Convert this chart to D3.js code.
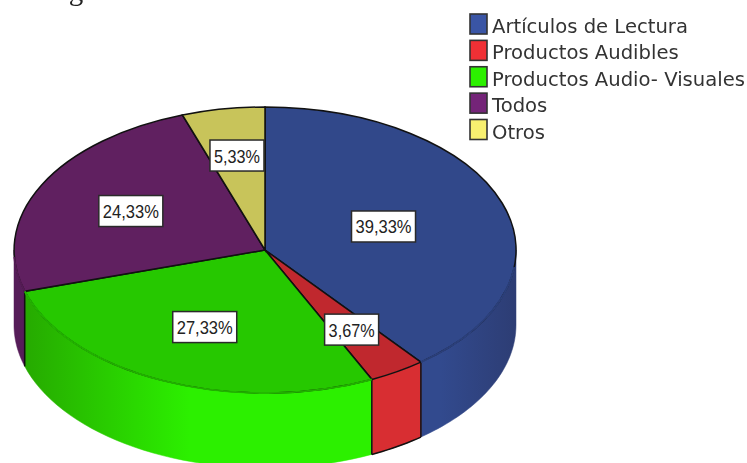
<!DOCTYPE html>
<html>
<head>
<meta charset="utf-8">
<script src="https://d3js.org/d3.v7.min.js"></script>
<style>
html, body { margin: 0; padding: 0; background: #fff; overflow: hidden; }
svg { display: block; filter: blur(0.45px); }
text { font-family: "DejaVu Sans", sans-serif; }
</style>
</head>
<body>
<div id="chart"></div>
<script>
const categories = ["Artículos de Lectura", "Productos Audibles", "Productos Audio- Visuales", "Todos", "Otros"];
const percents = [39.33, 3.67, 27.33, 24.33, 5.33];
const percentLabels = ["39,33%", "3,67%", "27,33%", "24,33%", "5,33%"];
const topColors = ["#31488a", "#c0282e", "#26c800", "#602060", "#c8c45a"];
const legendColors = ["#3a55a5", "#f03035", "#2cf000", "#742478", "#f8f070"];
const sideColors = ["#324a8e", "#d82e32", "#2cf000", "#561d59", "#c8c45a"];

const width = 747, height = 463;
const cx = 265, cy = 250, rx = 251, ry = 143, depth = 75;
const tau = Math.PI * 2;

// how far out along its slice each percentage box sits
const labelRadius = [0.5, 0.655, 0.59, 0.6, 0.67];

const svg = d3.select("#chart").append("svg")
  .attr("width", width)
  .attr("height", height);

// line of document text cut by the top edge, as in the reference
svg.append("text")
  .attr("x", 14).attr("y", 0)
  .style("font-family", "'Liberation Serif', serif")
  .style("font-size", "29px")
  .attr("fill", "#222")
  .text("vestigado");

const pie = d3.pie().sort(null).startAngle(0).endAngle(tau);
const slices = pie(percents);

// pie angle -> point on the tilted ellipse
const px = (a, r = 1) => cx + rx * r * Math.sin(a);
const py = (a, r = 1) => cy - ry * r * Math.cos(a);

function rimPoints(a0, a1, n) {
  return d3.range(0, n + 1).map(i => {
    let a = a0 + (a1 - a0) * i / n;
    return [px(a), py(a)];
  });
}

function sideOutline(a0, a1) {
  let top = rimPoints(a0, a1, 40);
  let bottom = top.slice().reverse().map(p => [p[0], p[1] + depth]);
  return d3.line()(top.concat(bottom)) + "Z";
}

// side shading: darker towards the far left and far right of the rim
const defs = svg.append("defs");
function sideGradient(id, x0, x1, from, to) {
  let g = defs.append("linearGradient").attr("id", id)
    .attr("gradientUnits", "userSpaceOnUse")
    .attr("x1", x0).attr("x2", x1).attr("y1", 0).attr("y2", 0);
  g.append("stop").attr("offset", 0).attr("stop-color", from);
  g.append("stop").attr("offset", 1).attr("stop-color", to);
}
sideGradient("sideBlue", 440, 516, "#324a8e", "#2d3d74");
sideGradient("sideGreen", 25, 190, "#26aa00", "#2cf000");

// visible part of the rim only (front half, pi/2 .. 3pi/2)
const rim = slices.map((d, i) => ({
  i: i,
  a0: Math.max(d.startAngle, tau / 4),
  a1: Math.min(d.endAngle, tau * 3 / 4)
})).filter(d => d.a1 > d.a0);

rim.forEach(d => {
  let fill = d.i == 0 ? "url(#sideBlue)" : d.i == 2 ? "url(#sideGreen)" : sideColors[d.i];
  svg.append("path")
    .attr("d", sideOutline(d.a0, d.a1))
    .attr("fill", fill)
    .attr("stroke", fill)
    .attr("stroke-width", 0.5);
});

// black verticals where the slices meet on the rim
slices.slice(0, 3).forEach(d => {
  let a = d.endAngle;
  svg.append("line")
    .attr("x1", px(a)).attr("x2", px(a))
    .attr("y1", py(a)).attr("y2", py(a) + depth)
    .attr("stroke", "#111").attr("stroke-width", 1.5);
});

// bottom edge of the red piece
let red = slices[1];
svg.append("path")
  .attr("d", d3.line()(rimPoints(red.startAngle, red.endAngle, 10).map(p => [p[0], p[1] + depth])))
  .attr("fill", "none").attr("stroke", "#111").attr("stroke-width", 1.5);

// top face: unit arcs squashed into the ellipse
const arc = d3.arc().innerRadius(0).outerRadius(1);
svg.append("g")
  .attr("transform", `translate(${cx},${cy}) scale(${rx},${ry})`)
  .selectAll("path")
  .data(slices)
  .enter()
  .append("path")
  .attr("d", arc)
  .attr("fill", (d, i) => topColors[i])
  .attr("stroke", "#111")
  .attr("stroke-width", 1.5)
  .attr("vector-effect", "non-scaling-stroke");

// soften the front rim of the top face, it is only a faint line in the reference
rim.forEach(d => {
  let a0 = d.i == 3 ? d.a0 : d.a0 + (d.i == 0 ? 0.12 : 0);
  let a1 = d.i == 3 ? d.a1 - 0.05 : d.a1;
  let edge = d3.line()(rimPoints(a0, a1, 60));
  if (d.i == 1) return;
  svg.append("path")
    .attr("d", edge)
    .attr("fill", "none")
    .attr("stroke", topColors[d.i])
    .attr("stroke-width", 1.8);
  svg.append("path")
    .attr("d", edge)
    .attr("fill", "none")
    .attr("stroke", "#000")
    .attr("stroke-opacity", 0.22)
    .attr("stroke-width", 0.7);
});

// percentage boxes
percentLabels.forEach((t, i) => {
  let mid = (slices[i].startAngle + slices[i].endAngle) / 2;
  let g = svg.append("g")
    .attr("transform", `translate(${px(mid, labelRadius[i])},${py(mid, labelRadius[i])})`);
  let w = t.length == 6 ? 64 : 54;
  g.append("rect")
    .attr("x", -w / 2).attr("y", -15.5)
    .attr("width", w).attr("height", 31)
    .attr("fill", "#fff").attr("stroke", "#2a2a2a").attr("stroke-width", 1.5);
  g.append("text")
    .attr("text-anchor", "middle")
    .attr("y", 7)
    .style("font-family", "'Liberation Sans', sans-serif")
    .style("font-size", "19px")
    .attr("fill", "#222")
    .attr("textLength", w - 8)
    .attr("lengthAdjust", "spacingAndGlyphs")
    .text(t);
});

// legend
const legendY = d3.scalePoint().domain(categories).range([24, 129.5]);
const legend = svg.append("g").selectAll("g")
  .data(categories)
  .enter()
  .append("g")
  .attr("transform", d => `translate(470,${legendY(d)})`);
legend.append("rect")
  .attr("x", 0).attr("y", -10)
  .attr("width", 17).attr("height", 20)
  .attr("fill", (d, i) => legendColors[i])
  .attr("stroke", "#333").attr("stroke-width", 1.6);
legend.append("text")
  .attr("x", 22)
  .attr("y", 9)
  .style("font-size", "19.6px")
  .attr("fill", "#333")
  .text(d => d);
</script>
</body>
</html>
